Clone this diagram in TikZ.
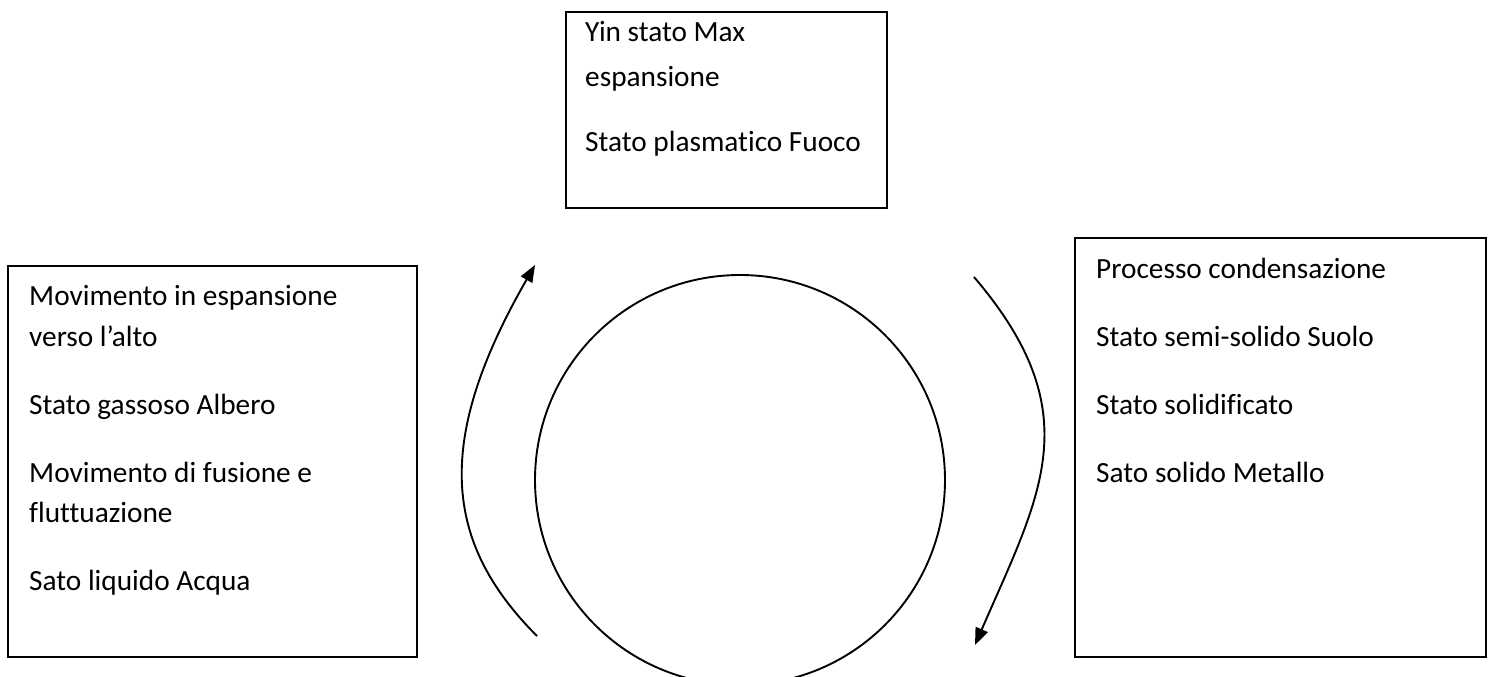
\documentclass[tikz,border=0pt]{standalone}
\usepackage{fontspec}
\setmainfont{Carlito}[Ligatures={CommonOff}]
\usetikzlibrary{arrows.meta}
\tikzset{
  boxframe/.style={draw=black, line width=1.9pt, inner sep=0pt},
  txt/.style={anchor=base west, inner sep=0pt, font=\fontsize{29.3}{34}\selectfont},
  flow/.style={line width=1.9pt, -{Triangle[length=17pt,width=13pt]}},
}
\begin{document}
\begin{tikzpicture}[x=1pt,y=-1pt]
\useasboundingbox (0,0) rectangle (1491,677);
\clip (0,0) rectangle (1491,677);
% boxes
\node[boxframe, minimum width=321pt, minimum height=196pt] (topbox) at (726.5,110) {};
\node[boxframe, minimum width=409pt, minimum height=391pt] (leftbox) at (212.5,461.5) {};
\node[boxframe, minimum width=411pt, minimum height=419pt] (rightbox) at (1280.5,447.5) {};
% top texts
\node[txt] (t1) at (585,42) {Yin stato Max};
\node[txt] (t2) at (585,86) {espansione};
\node[txt] (t3) at (585,151) {Stato plasmatico Fuoco};
% left texts
\node[txt] (l1) at (29,305) {Movimento in espansione};
\node[txt] (l2) at (29,346) {verso l’alto};
\node[txt] (l3) at (29,414) {Stato gassoso Albero};
\node[txt] (l4) at (29,482) {Movimento di fusione e};
\node[txt] (l5) at (29,522) {fluttuazione};
\node[txt] (l6) at (29,590) {Sato liquido Acqua};
% right texts
\node[txt] (r1) at (1096,278) {Processo condensazione};
\node[txt] (r2) at (1096,346) {Stato semi-solido Suolo};
\node[txt] (r3) at (1096,414) {Stato solidificato};
\node[txt] (r4) at (1096,482) {Sato solido Metallo};
% circle
\node[draw, circle, line width=1.9pt, minimum size=410pt, inner sep=0pt] (ring) at (740,480) {};
% arcs
\coordinate (la) at (537,636);
\coordinate (lb) at (535,265);
\coordinate (ra) at (974,277);
\coordinate (rb) at (975,645);
\draw[flow] (la) .. controls (442,541) and (435,439) .. (lb);
\draw[flow] (ra) .. controls (1090,413) and (1041,493) .. (rb);
\end{tikzpicture}
\end{document}
